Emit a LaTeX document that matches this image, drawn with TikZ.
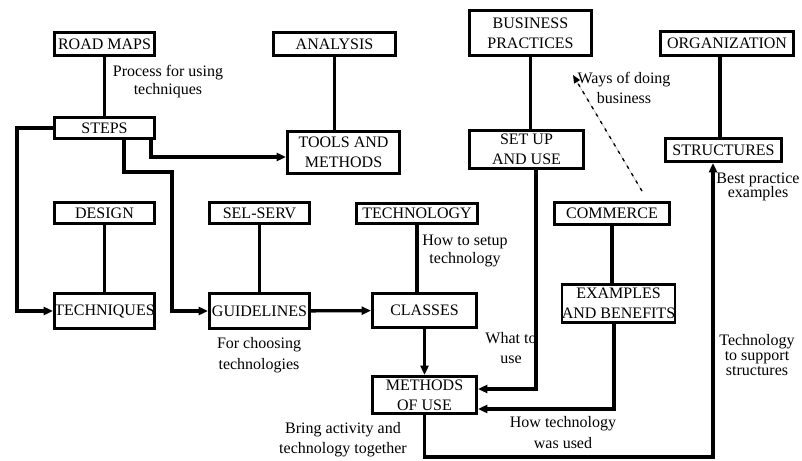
\documentclass[tikz,border=0pt]{standalone}
\usepackage{fontspec}
\setmainfont{Liberation Serif}
\usetikzlibrary{arrows.meta}
\begin{document}
\begin{tikzpicture}[x=.75pt,y=-.75pt,>={Triangle[length=7pt,width=6pt]},
 box/.style={draw,line width=1.9pt,inner sep=0pt,align=center,font=\fontsize{12}{15}\selectfont},
 lab/.style={align=center,inner sep=0pt,font=\fontsize{12}{#1}\selectfont},lab/.default=15,
 link/.style={line width=2.5pt}]
\useasboundingbox (0,0) rectangle (802,460);
% boxes: name/x/y/width/height/text
\foreach \n/\x/\y/\w/\h/\t in {roadmaps/104.5/44/103/26/ROAD MAPS, analysis/334.5/44/125/26/ANALYSIS,
 business/530.5/33/125/48/BUSINESS\\PRACTICES, organization/727/43.5/136/27/ORGANIZATION,
 steps/104.5/128/103/24/STEPS, tools/343.5/152.5/115/45/TOOLS AND\\METHODS,
 setup/526.5/149.5/117/41/SET UP\\AND USE, structures/723.5/150/119/26/STRUCTURES,
 design/104.5/213/103/24/DESIGN, selserv/259.5/213/103/24/SEL-SERV,
 technology/417/213.5/124/23/TECHNOLOGY, commerce/612/213.5/118/25/COMMERCE,
 techniques/104.5/311/103/38/TECHNIQUES, guidelines/259.5/311/103/38/GUIDELINES,
 classes/424.5/310.5/107/37/CLASSES, examples/618.5/303.5/115/41/EXAMPLES\\AND BENEFITS,
 methods/424.5/395/107/40/METHODS\\OF USE}
 \node[box,minimum width=(\w-2.5)*0.75pt,minimum height=(\h-2.5)*0.75pt] (\n) at (\x,\y) {\t};
% labels
\node[lab=13.5] (process) at (168,82) {Process for using\\techniques};
\node[lab] (ways) at (624,88) {Ways of doing\\business};
\node[lab=11] (bestpr) at (758,187) {Best practice\\examples};
\node[lab=13.5] (howsetup) at (465,251) {How to setup\\technology};
\node[lab=15.75] (choosing) at (259,355.5) {For choosing\\technologies};
\node[lab] (whatuse) at (511,348) {What to\\use};
\node[lab=11.25] (support) at (757,355) {Technology\\to support\\structures};
\node[lab=15.75] (howused) at (563,432.5) {How technology\\was used};
\node[lab] (bring) at (343,439.5) {Bring activity and\\technology together};
% plain links
\draw[link] (roadmaps) -- (steps); \draw[link] (design) -- (techniques); \draw[link] (selserv) -- (guidelines);
\draw[link] (analysis.south) -- (analysis.south |- tools.north);
\draw[link] (business.south) -- (business.south |- setup.north);
\draw[link] (organization.south -| 720,0) -- (structures.north -| 720,0);
\draw[link] (technology.south) -- (technology.south |- classes.north);
\draw[link] (commerce.south) -- (commerce.south |- examples.north);
% arrows
\draw[link,->] (steps.west) -- (17,0 |- steps.west) |- (techniques.west);
\draw[link,->] (151,0 |- steps.south) |- (tools.west |- 0,157);
\draw[link,->] (124,0 |- steps.south) |- (172,172) |- (guidelines.west);
\draw[link,->] (guidelines) -- (classes); \draw[link,->] (classes) -- (methods);
\draw[link,->] (536,0 |- setup.south) |- (methods.east |- 0,389);
\draw[link,->] (614,0 |- examples.south) |- (methods.east |- 0,409);
\draw[link,->] (methods.south) -- (methods.south |- 0,457) -| (713,0 |- structures.south);
\coordinate (wtail) at (642,191); \coordinate (wtip) at (573,75);
\draw[gray!50,line width=.5pt] (wtail) -- (wtip);
\draw[line width=1pt,dash pattern=on 2.5pt off 4pt,-{Triangle[length=6pt,width=5pt]}] (wtail) -- (wtip);
\end{tikzpicture}
\end{document}
